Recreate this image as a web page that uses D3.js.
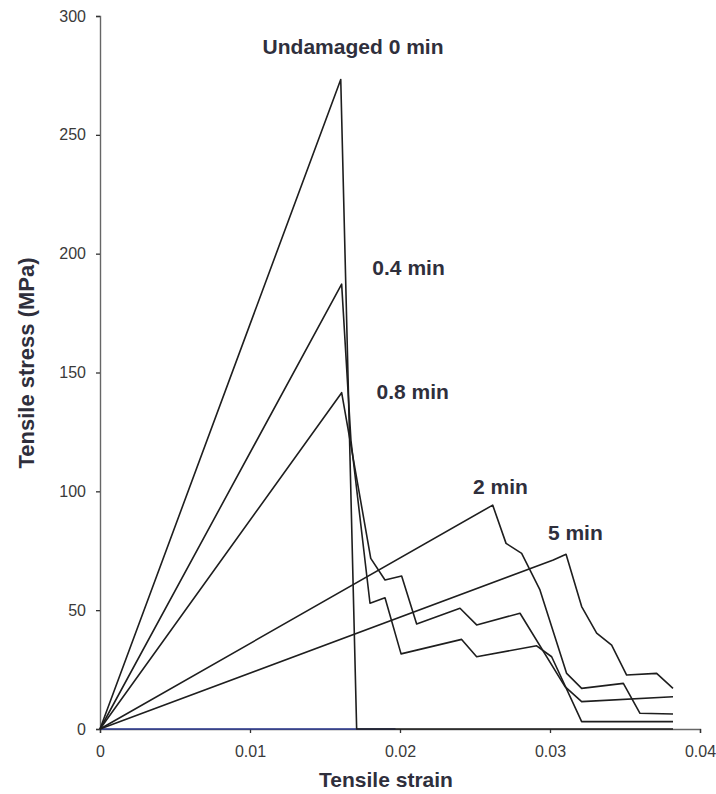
<!DOCTYPE html>
<html>
<head>
<meta charset="utf-8">
<script src="https://cdn.jsdelivr.net/npm/d3@7"></script>
<style>
  html, body { margin: 0; padding: 0; background: #fff; }
  svg { display: block; font-family: "Liberation Sans", Arial, Helvetica, sans-serif; }
</style>
</head>
<body>
<svg id="chart" width="716" height="794"></svg>
<script>
// Tensile stress–strain curves after increasing damage time
const strainUndamaged = [0, 0.01605, 0.01711, 0.0382];
const stressUndamaged = [0, 273.3, 0, 0];

const strain04 = [0, 0.01611, 0.01673, 0.018, 0.019, 0.02007, 0.02411, 0.02511, 0.02911, 0.03011, 0.03211, 0.0382];
const stress04 = [0, 187.2, 121.5, 52.9, 55.2, 31.6, 37.7, 30.4, 35.0, 30.4, 3.1, 3.1];

const strain08 = [0, 0.01611, 0.01805, 0.019, 0.02011, 0.02111, 0.024, 0.02511, 0.028, 0.031, 0.03211, 0.0382];
const stress08 = [0, 141.5, 71.8, 62.7, 64.4, 44.2, 50.8, 43.8, 48.7, 17.8, 11.5, 13.6];

const strain2 = [0, 0.02618, 0.02707, 0.02811, 0.02933, 0.03111, 0.03211, 0.03489, 0.036, 0.0382];
const stress2 = [0, 94.2, 78.1, 73.9, 58.5, 23.4, 17.1, 19.2, 6.6, 6.3];

const strain5 = [0, 0.03022, 0.03107, 0.03211, 0.03311, 0.03411, 0.03511, 0.03711, 0.0382];
const stress5 = [0, 71.1, 73.5, 51.5, 40.3, 35.3, 22.7, 23.4, 17.1];

// zero-stress baseline drawn along the strain axis
const baselineStrain = [0, 0.0197];
const baselineStress = [0, 0];

const xTicks = [0, 0.01, 0.02, 0.03, 0.04];
const yTicks = [0, 50, 100, 150, 200, 250, 300];

const curveNames = ["Undamaged 0 min", "0.4 min", "0.8 min", "2 min", "5 min"];
// label anchor (centre x, baseline y) in strain / stress units
const labelStrain = [0.01687, 0.02057, 0.02085, 0.02670, 0.03169];
const labelStress = [284.0, 191.0, 138.8, 98.9, 79.5];

const svg = d3.select("#chart");
const x = d3.scaleLinear().domain([0, 0.04]).range([100, 700]);
const y = d3.scaleLinear().domain([0, 300]).range([729, 16]);

const zip = (xs, ys) => xs.map((v, i) => [v, ys[i]]);
const series = [
  zip(strainUndamaged, stressUndamaged),
  zip(strain04, stress04),
  zip(strain08, stress08),
  zip(strain2, stress2),
  zip(strain5, stress5)
];

// axes
const yAxis = svg.append("g")
  .attr("transform", `translate(${x(0)},0)`)
  .call(d3.axisLeft(y).tickValues(yTicks).tickSize(4).tickPadding(10).tickFormat(d3.format("d")));
const xAxis = svg.append("g")
  .attr("transform", `translate(0,${y(0)})`)
  .call(d3.axisBottom(x).tickValues(xTicks).tickSize(4).tickPadding(13)
    .tickFormat(d => d === 0 ? "0" : d3.format(".2f")(d)));

[yAxis, xAxis].forEach(g => {
  g.select(".domain").attr("stroke", "#666").attr("stroke-width", 1.4);
  g.selectAll(".tick line").attr("stroke", "#333").attr("stroke-width", 1.3);
  g.selectAll(".tick text").attr("fill", "#3a3a3a").style("font-size", "16px")
    .style("font-family", "'Liberation Sans', Arial, sans-serif");
});

const line = d3.line().x(d => x(d[0])).y(d => y(d[1]));

// baseline along zero stress
svg.append("path")
  .datum(zip(baselineStrain, baselineStress))
  .attr("d", line)
  .attr("fill", "none")
  .attr("stroke", "#2b3990")
  .attr("stroke-width", 1.6);

// curves
svg.append("g").selectAll("path")
  .data(series)
  .join("path")
  .attr("d", line)
  .attr("fill", "none")
  .attr("stroke", "#1e1e1e")
  .attr("stroke-width", 1.6)
  .attr("stroke-linejoin", "round");

// curve labels
svg.append("g").selectAll("text")
  .data(curveNames)
  .join("text")
  .attr("x", (d, i) => x(labelStrain[i]))
  .attr("y", (d, i) => y(labelStress[i]))
  .attr("text-anchor", "middle")
  .attr("fill", "#2f2f3c")
  .style("font-size", "21px")
  .style("font-weight", "bold")
  .text(d => d);

// axis titles
svg.append("text")
  .attr("x", 386)
  .attr("y", 787)
  .attr("text-anchor", "middle")
  .attr("fill", "#2f2f3c")
  .style("font-size", "21px")
  .style("font-weight", "bold")
  .text("Tensile strain");

svg.append("text")
  .attr("transform", "translate(34,363) rotate(-90)")
  .attr("text-anchor", "middle")
  .attr("fill", "#2f2f3c")
  .style("font-size", "22px")
  .style("font-weight", "bold")
  .text("Tensile stress (MPa)");
</script>
</body>
</html>
